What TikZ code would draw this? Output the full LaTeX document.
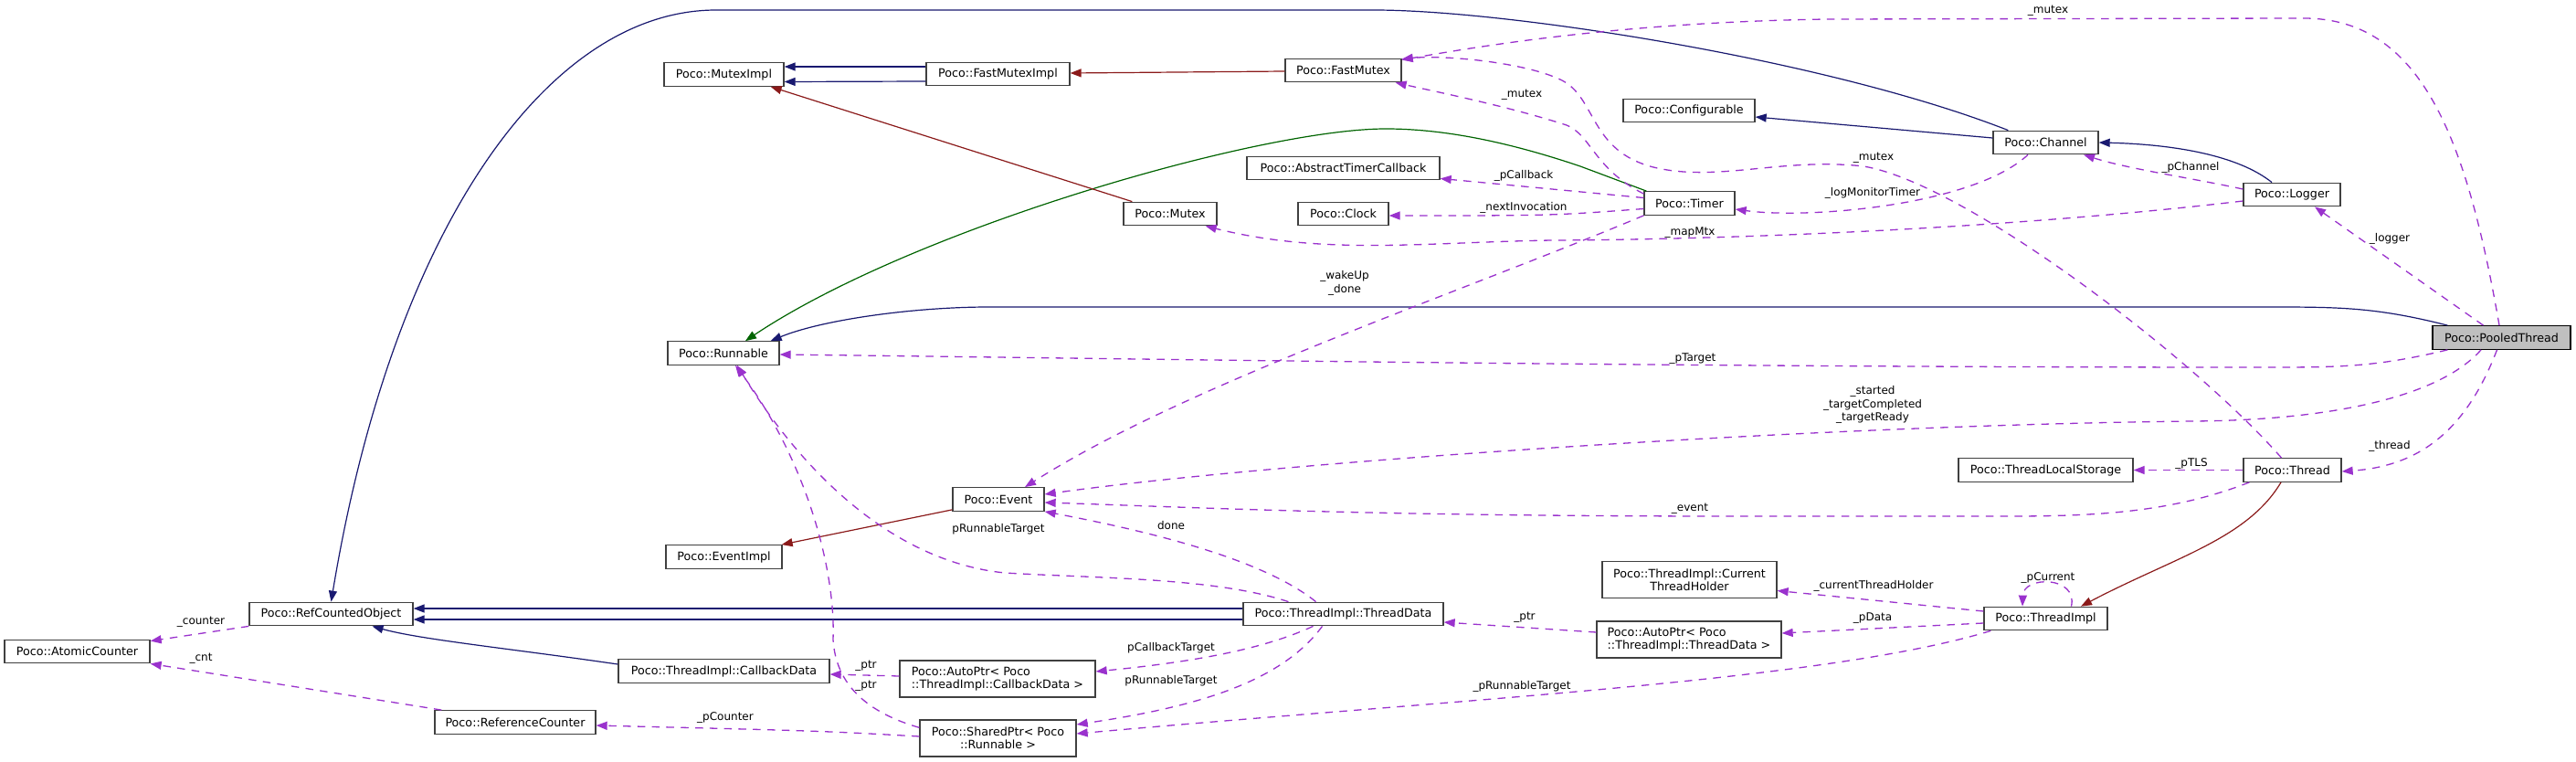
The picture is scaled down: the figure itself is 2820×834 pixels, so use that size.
\documentclass[tikz,border=0pt]{standalone}
\usepackage{fontspec}
\setmainfont{DejaVu Sans}
\usetikzlibrary{arrows.meta,calc}
\definecolor{inhc}{HTML}{191970}
\definecolor{pubc}{HTML}{006400}
\definecolor{privc}{HTML}{8B1A1A}
\definecolor{usec}{HTML}{9A32CD}
\definecolor{bordc}{HTML}{404040}
\definecolor{selc}{HTML}{BFBFBF}
\begin{document}
\begin{tikzpicture}[x=1pt,y=-1pt,
  box/.style={draw=bordc,line width=1.3pt,fill=white,inner sep=0pt,minimum height=25.5pt,font=\fontsize{12.7}{14}\selectfont},
  boxtwo/.style={box,minimum height=40pt},
  lbl/.style={inner sep=0pt,font=\fontsize{12}{14.5}\selectfont,align=center},
  tip/.style={-{Triangle[length=12pt,width=9pt]}},
  inhe/.style={draw=inhc,line width=1.2pt,tip},
  pube/.style={draw=pubc,line width=1.2pt,tip},
  prive/.style={draw=privc,line width=1.2pt,tip},
  usee/.style={draw=usec,line width=1.3pt,dash pattern=on 8.5pt off 7.3pt,tip},
]
\fill[white] (0,0) rectangle (2820,834);
\useasboundingbox (0,0) rectangle (2820,834);

% nodes
\node[box,minimum width=151pt,fill=selc,draw=black] (pooled) at (2738.5,369.5) {Poco::PooledThread};
\node[box,minimum width=122pt] (runnable) at (792,386.5) {Poco::Runnable};
\node[box,minimum width=179pt] (rco) at (362.5,672) {Poco::RefCountedObject};
\node[box,minimum width=131pt] (mi) at (792.5,81.5) {Poco::MutexImpl};
\node[box,minimum width=157pt] (fmi) at (1092.5,81) {Poco::FastMutexImpl};
\node[box,minimum width=127pt] (fm) at (1470.5,77) {Poco::FastMutex};
\node[box,minimum width=144pt] (conf) at (1849,121) {Poco::Configurable};
\node[box,minimum width=211pt] (atc) at (1470.5,184) {Poco::AbstractTimerCallback};
\node[box,minimum width=99pt] (timer) at (1849.5,222.5) {Poco::Timer};
\node[box,minimum width=102pt] (mutex) at (1281,234) {Poco::Mutex};
\node[box,minimum width=99pt] (clock) at (1470.5,234) {Poco::Clock};
\node[box,minimum width=115pt] (channel) at (2239.5,156) {Poco::Channel};
\node[box,minimum width=106pt] (logger) at (2509,213) {Poco::Logger};
\node[box,minimum width=127pt] (evimpl) at (792.5,609.5) {Poco::EventImpl};
\node[box,minimum width=159pt] (ac) at (84.5,713) {Poco::AtomicCounter};
\node[box,minimum width=231pt] (cbd) at (792.5,734.5) {Poco::ThreadImpl::CallbackData};
\node[box,minimum width=176pt] (rc) at (564,790.5) {Poco::ReferenceCounter};
\node[box,minimum width=100pt] (event) at (1093,546.5) {Poco::Event};
\node[box,minimum width=219pt] (td) at (1470.5,672) {Poco::ThreadImpl::ThreadData};
\node[boxtwo,minimum width=191pt,align=center] (cth) at (1849.5,634.5) {Poco::ThreadImpl::Current\\ThreadHolder};
\node[boxtwo,minimum width=202pt,align=left] (aptd) at (1849,700) {Poco::AutoPtr< Poco\\::ThreadImpl::ThreadData >};
\node[boxtwo,minimum width=214pt,align=left] (apcb) at (1092,743) {Poco::AutoPtr< Poco\\::ThreadImpl::CallbackData >};
\node[boxtwo,minimum width=171pt,align=center] (sp) at (1092.5,808) {Poco::SharedPtr< Poco\\::Runnable >};
\node[box,minimum width=191pt] (tls) at (2239.5,514.5) {Poco::ThreadLocalStorage};
\node[box,minimum width=107pt] (thread) at (2509.5,514.5) {Poco::Thread};
\node[box,minimum width=135pt] (timpl) at (2239.5,677) {Poco::ThreadImpl};

% inheritance (public)
\draw[inhe] ($(channel.north west)+(17,0)$) .. controls (2000,65) and (1650,11) .. (1504,11) -- (784,11) .. controls (600,11) and (430,250) .. (rco.north);
\draw[inhe] ($(channel.west)+(0,-5)$) -- ($(conf.east)+(0,7)$);
\draw[inhe] ($(fmi.west)+(0,-8)$) -- ($(mi.east)+(0,-8.5)$);
\draw[inhe] ($(fmi.west)+(0,8)$) -- ($(mi.east)+(0,8)$);
\draw[inhe] ($(logger.north)+(-22,0)$) .. controls (2450,170) and (2380,158) .. (channel.east);
\draw[inhe] ($(pooled.north west)+(17,0)$) .. controls (2600,336) and (2560,336) .. (2480,336) -- (1083,336) .. controls (1000,336) and (900,350) .. ($(runnable.north east)+(-10,0)$);
\draw[inhe] ($(td.west)+(0,-6)$) -- ($(rco.east)+(0,-6)$);
\draw[inhe] ($(td.west)+(0,6)$) -- ($(rco.east)+(0,6)$);
\draw[inhe] ($(cbd.west)+(0,-7.5)$) .. controls (560,710) and (460,700) .. ($(rco.south)+(45,0)$);

% green
\draw[pube] ($(timer.north west)+(3,0)$) -- (1730,182) .. controls (1650,155) and (1580,141) .. (1517,141) .. controls (1380,141) and (1000,250) .. ($(runnable.north)+(24,0)$);

% private
\draw[prive] ($(fm.west)+(0,1)$) -- ($(fmi.east)+(0,-1)$);
\draw[prive] ($(mutex.north west)+(10,0)$) -- ($(mi.south east)+(-15,0)$);
\draw[prive] ($(event.south west)+(0,-2)$) -- ($(evimpl.north east)+(-1,0)$);
\draw[prive] ($(thread.south)+(-12.5,0)$) .. controls (2460,590) and (2380,610) .. ($(timpl.north)+(38.5,0)$);

% usage
\draw[usee] ($(pooled.north)+(-2.5,0)$) .. controls (2700,150) and (2650,20) .. (2522,20) -- (2000,21) .. controls (1800,24) and (1650,45) .. ($(fm.north east)+(0,2)$);
\draw[usee] ($(timer.north west)+(0,3)$) .. controls (1745,185) and (1742,148) .. (1715,137) .. controls (1650,116) and (1570,100) .. ($(fm.south east)+(-7,0)$);
\draw[usee] ($(thread.north)+(-12,0)$) .. controls (2400,390) and (2150,200) .. (2040,182) .. controls (1950,172) and (1880,200) .. (1810,183) .. controls (1740,165) and (1748,108) .. (1710,88) .. controls (1670,68) and (1580,60) .. ($(fm.north east)+(0,1)$);
\draw[usee] ($(timer.west)+(0,-6)$) -- ($(atc.south east)+(0,-2)$);
\draw[usee] ($(timer.west)+(0,6)$) .. controls (1700,236) .. ($(clock.east)+(0,2)$);
\draw[usee] ($(logger.west)+(0,7)$) .. controls (2200,250) and (1900,262) .. (1700,263) .. controls (1560,265) and (1450,280) .. ($(mutex.south east)+(-13,0)$);
\draw[usee] ($(channel.south)+(-19.5,0)$) .. controls (2160,225) and (1980,240) .. ($(timer.east)+(0,6.5)$);
\draw[usee] ($(logger.west)+(0,-6)$) .. controls (2400,195) and (2330,185) .. ($(channel.south)+(41.5,0)$);
\draw[usee] ($(pooled.north)+(-20,0)$) -- ($(logger.south)+(25,0)$);
\draw[usee] ($(pooled.south west)+(17,0)$) .. controls (2600,402) and (2560,402) .. (2480,402) .. controls (1800,402) and (1200,392) .. ($(runnable.east)+(0,1.5)$);
\draw[usee] ($(pooled.south)+(-22.5,0)$) .. controls (2670,435) and (2550,460) .. (2400,461) .. controls (2000,465) and (1400,505) .. ($(event.east)+(0,-5.5)$);
\draw[usee] (timer.south west) .. controls (1600,320) and (1300,420) .. ($(event.north)+(29,0)$);
\draw[usee] ($(thread.south west)+(7,0)$) .. controls (2380,560) and (2300,565) .. (2200,565) -- (1900,565) .. controls (1500,565) and (1300,555) .. ($(event.east)+(0,3.5)$);
\draw[usee] ($(pooled.south)+(-5,0)$) .. controls (2700,470) and (2650,510) .. ($(thread.east)+(0,1.5)$);
\draw[usee] (thread.west) -- (tls.east);
\draw[usee] ($(td.north)+(-60,0)$) .. controls (1330,632) and (1200,633) .. (1100,627) .. controls (980,615) and (880,520) .. ($(runnable.south)+(15,0)$);
\draw[usee] ($(td.north)+(-30,0)$) .. controls (1380,610) and (1250,580) .. (event.south east);
\draw[usee] ($(sp.north west)+(0,9)$) .. controls (950,780) and (915,750) .. (912,700) .. controls (915,620) and (880,500) .. ($(runnable.south)+(13,0)$);
\draw[usee] ($(apcb.west)+(0,-3)$) -- ($(cbd.east)+(0,3.5)$);
\draw[usee] ($(td.south)+(-33,0)$) .. controls (1380,712) and (1300,725) .. ($(apcb.east)+(0,-8)$);
\draw[usee] ($(td.south)+(-23,0)$) .. controls (1400,750) and (1300,775) .. ($(sp.east)+(0,-15)$);
\draw[usee] ($(timpl.south west)+(8,0)$) .. controls (2000,745) and (1600,765) .. ($(sp.east)+(0,-5)$);
\draw[usee] ($(sp.west)+(0,-2)$) .. controls (900,800) .. ($(rc.east)+(0,3.5)$);
\draw[usee] (rco.south west) -- ($(ac.north east)+(0,2)$);
\draw[usee] ($(rc.north west)+(8,0)$) -- (ac.south east);
\draw[usee] ($(timpl.west)+(0,-8)$) -- ($(cth.east)+(0,12)$);
\draw[usee] ($(timpl.west)+(0,5)$) -- ($(aptd.east)+(0,-7)$);
\draw[usee] ($(aptd.west)+(0,-8)$) -- ($(td.east)+(0,9)$);
\draw[usee] ($(timpl.north)+(28,0)$) .. controls (2275,630) and (2215,630) .. ($(timpl.north)+(-25.5,0)$);

% labels
\node[lbl] (l1) at (2242,12) {\_mutex};
\node[lbl] (l2) at (1666,104) {\_mutex};
\node[lbl] (l3) at (2051,173) {\_mutex};
\node[lbl] (l4) at (1668,192) {\_pCallback};
\node[lbl] (l5) at (1668,227) {\_nextInvocation};
\node[lbl] (l6) at (1850,255) {\_mapMtx};
\node[lbl] (l7) at (2050,211) {\_logMonitorTimer};
\node[lbl] (l8) at (2398,183) {\_pChannel};
\node[lbl] (l9) at (2616,261) {\_logger};
\node[lbl] (l10) at (1472,310) {\_wakeUp\\\_done};
\node[lbl] (l11) at (1853,393) {\_pTarget};
\node[lbl] (l12) at (2050,443) {\_started\\\_targetCompleted\\\_targetReady};
\node[lbl] (l13) at (2616,488) {\_thread};
\node[lbl] (l14) at (2399,507) {\_pTLS};
\node[lbl] (l15) at (1850,557) {\_event};
\node[lbl] (l16) at (1093,579) {pRunnableTarget};
\node[lbl] (l17) at (1282,575) {done};
\node[lbl] (l18) at (1669,676) {\_ptr};
\node[lbl] (l19) at (2051,641) {\_currentThreadHolder};
\node[lbl] (l20) at (2242,632) {\_pCurrent};
\node[lbl] (l21) at (2050,677) {\_pData};
\node[lbl] (l22) at (1282,709) {pCallbackTarget};
\node[lbl] (l23) at (1282,745) {pRunnableTarget};
\node[lbl] (l24) at (1666,751) {\_pRunnableTarget};
\node[lbl] (l25) at (220,681) {\_counter};
\node[lbl] (l26) at (220,721) {\_cnt};
\node[lbl] (l27) at (948,729) {\_ptr};
\node[lbl] (l28) at (948,751) {\_ptr};
\node[lbl] (l29) at (794,785) {\_pCounter};
\end{tikzpicture}
\end{document}
